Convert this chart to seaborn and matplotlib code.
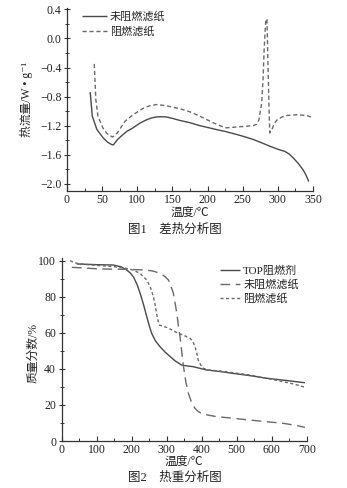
import numpy as np
import pandas as pd
import matplotlib
matplotlib.use("Agg")
import matplotlib.pyplot as plt
import seaborn as sns
from matplotlib.ticker import MultipleLocator

# DSC curves (temperature in °C, heat flow in W/g)
dsc_plain_T = [33, 36, 42.6, 51.6, 58, 63.4, 66, 68, 72, 77.6, 85, 94, 103, 113, 120, 127, 134, 141,
               150, 160, 175, 189, 200, 213, 225, 237, 250, 265, 278, 289, 300, 310, 316, 322, 329, 336, 340, 344]
dsc_plain_Q = [-0.74, -1.07, -1.255, -1.37, -1.43, -1.46, -1.465, -1.44, -1.39, -1.34, -1.28, -1.23, -1.17,
               -1.12, -1.095, -1.08, -1.077, -1.08, -1.10, -1.127, -1.16, -1.20, -1.225, -1.255, -1.28,
               -1.31, -1.345, -1.39, -1.44, -1.485, -1.525, -1.555, -1.59, -1.645, -1.72, -1.81, -1.88, -1.97]

dsc_fr_T = [38.8, 41, 44, 51, 56, 61, 65, 69, 73, 82.5, 94, 108.6, 118, 127, 141, 160, 175, 189, 208, 220,
            227, 246, 265, 270, 273, 277, 279, 280.5, 282, 283, 284.5, 286, 287.6, 288.5, 291.7, 295, 299,
            306, 313, 327, 341, 347]
dsc_fr_Q = [-0.35, -0.84, -1.07, -1.23, -1.30, -1.34, -1.355, -1.33, -1.28, -1.14, -1.05, -0.96, -0.925,
            -0.91, -0.925, -0.966, -1.01, -1.07, -1.16, -1.21, -1.23, -1.215, -1.20, -1.18, -1.12, -0.89,
            -0.55, -0.15, 0.12, 0.26, 0.27, -0.38, -1.02, -1.30, -1.25, -1.17, -1.12, -1.08, -1.06, -1.05,
            -1.06, -1.08]

# TGA curves (temperature in °C, mass fraction in %)
tga_top_T = [43, 100, 148, 170, 186, 196, 205, 215, 224, 234, 243, 250, 257, 268, 281, 295, 310, 325, 343,
             360, 376, 414, 450, 490, 540, 586, 640, 695]
tga_top_W = [98.2, 97.8, 97.6, 96.6, 94.8, 93.2, 91.0, 87.0, 82.0, 75.5, 69.0, 64.0, 59.7, 55.5, 52.3,
             49.4, 46.8, 44.3, 42.1, 41.6, 41.2, 39.4, 38.6, 37.5, 36.2, 34.8, 33.6, 32.3]

tga_plain_T = [29, 60, 110, 150, 186, 220, 243, 262, 281, 295, 305, 312, 319, 324, 329, 333, 338, 343,
               348, 355, 362, 371, 381, 390, 400, 420, 443, 490, 538, 585, 633, 665, 695]
tga_plain_W = [96.3, 96.0, 95.4, 95.3, 95.2, 95.0, 94.8, 94.2, 93.0, 91.2, 89.3, 86.0, 82.0, 76.5, 70.8,
               64.5, 57.9, 49.5, 41.2, 32.5, 26.4, 21.5, 18.1, 16.3, 15.3, 14.3, 13.5, 12.6, 11.6, 10.7,
               9.8, 8.8, 7.6]

tga_fr_T = [24, 35, 52, 100, 148, 180, 205, 225, 243, 253, 262, 267, 271, 275, 279, 290, 300, 315, 333,
            350, 367, 375, 381, 386, 390, 397, 405, 420, 452, 500, 538, 585, 633, 665, 695]
tga_fr_W = [100.0, 99.0, 98.2, 97.4, 96.7, 95.9, 94.8, 92.8, 89.3, 85.5, 80.0, 75.5, 70.8, 67.0, 64.3,
            63.6, 63.0, 61.6, 59.7, 58.5, 56.9, 55.0, 52.3, 48.5, 45.0, 42.2, 40.3, 39.4, 38.8, 37.6,
            36.6, 34.8, 32.9, 31.5, 29.8]

dsc_names = ["未阻燃滤纸", "阻燃滤纸"]
tga_names = ["TOP阻燃剂", "未阻燃滤纸", "阻燃滤纸"]

dsc = pd.concat([
    pd.DataFrame({"T": dsc_plain_T, "Q": dsc_plain_Q, "s": dsc_names[0]}),
    pd.DataFrame({"T": dsc_fr_T, "Q": dsc_fr_Q, "s": dsc_names[1]}),
])
tga = pd.concat([
    pd.DataFrame({"T": tga_top_T, "W": tga_top_W, "s": tga_names[0]}),
    pd.DataFrame({"T": tga_plain_T, "W": tga_plain_W, "s": tga_names[1]}),
    pd.DataFrame({"T": tga_fr_T, "W": tga_fr_W, "s": tga_names[2]}),
])

sns.set_theme(style="ticks")
plt.rcParams["font.family"] = ["Liberation Serif", "Noto Sans CJK SC", "DejaVu Sans"]
plt.rcParams["axes.linewidth"] = 0.9
plt.rcParams["axes.edgecolor"] = "#333333"

fig = plt.figure(figsize=(3.47, 4.88), dpi=100)
fig.patch.set_facecolor("white")

ax1 = fig.add_axes([67 / 347, 1 - 191 / 488, (313 - 67) / 347, (191 - 8) / 488])
ax2 = fig.add_axes([61.7 / 347, 1 - 441 / 488, (306.7 - 61.7) / 347, (441 - 258) / 488])

line_col = "#4a4a4a"
dash_col = "#6a6a6a"
text_col = "#222222"


def style_axes(ax):
    for side in ("top", "right"):
        ax.spines[side].set_visible(False)
    ax.set_facecolor("white")
    ax.tick_params(axis="x", which="both", direction="in", labelsize=8.5, pad=2, colors="#333333",
                   labelcolor=text_col)
    ax.tick_params(axis="x", which="major", length=3.5, width=0.8)
    ax.tick_params(axis="x", which="minor", length=2, width=0.7)
    ax.tick_params(axis="y", which="both", direction="inout", labelsize=8.5, pad=2, colors="#333333",
                   labelcolor=text_col)
    ax.tick_params(axis="y", which="major", length=4, width=0.8)
    ax.tick_params(axis="y", which="minor", length=2.5, width=0.7)


# ---- DSC ----
sns.lineplot(data=dsc, x="T", y="Q", hue="s", style="s", sort=False, estimator=None,
             palette=[line_col, dash_col], dashes=[(1, 0), (3, 2)], linewidth=1.0, ax=ax1)
ax1.set_xlim(0, 350)
ax1.set_ylim(-2.1, 0.42)
ax1.xaxis.set_major_locator(MultipleLocator(50))
ax1.xaxis.set_minor_locator(MultipleLocator(25))
ax1.yaxis.set_major_locator(MultipleLocator(0.4))
ax1.yaxis.set_minor_locator(MultipleLocator(0.2))
ax1.set_yticklabels([f"{v:.1f}".replace("-", "\u2212") for v in ax1.get_yticks()])
style_axes(ax1)
ax1.set_xlabel("温度/℃", fontsize=8.5, labelpad=1, color=text_col)
ax1.set_ylabel("热流量/W • g⁻¹", fontsize=8.5, color=text_col)
ax1.yaxis.set_label_coords(-0.138, 0.5)
leg1 = ax1.legend(loc="upper left", bbox_to_anchor=(0.035, 1.02), frameon=False, fontsize=8,
                  handlelength=2.2, handletextpad=0.3, labelspacing=0.4, borderaxespad=0.2)
for t in leg1.get_texts():
    t.set_color(text_col)

# ---- TGA ----
sns.lineplot(data=tga, x="T", y="W", hue="s", style="s", sort=False, estimator=None,
             palette=[line_col, dash_col, dash_col], dashes=[(1, 0), (7, 4), (2.2, 1.8)],
             linewidth=1.0, ax=ax2)
ax2.set_xlim(0, 700)
ax2.set_ylim(0, 101.5)
ax2.xaxis.set_major_locator(MultipleLocator(100))
ax2.xaxis.set_minor_locator(MultipleLocator(50))
ax2.yaxis.set_major_locator(MultipleLocator(20))
ax2.yaxis.set_minor_locator(MultipleLocator(10))
style_axes(ax2)
ax2.set_xlabel("温度/℃", fontsize=8.5, labelpad=0, color=text_col)
ax2.set_ylabel("质量分数/%", fontsize=8.5, color=text_col)
ax2.yaxis.set_label_coords(-0.093, 0.48)
leg2 = ax2.legend(loc="upper right", bbox_to_anchor=(1.0, 1.0), frameon=False, fontsize=8,
                  handlelength=1.8, handletextpad=0.3, labelspacing=0.3, borderaxespad=0.3)
for t in leg2.get_texts():
    t.set_color(text_col)

fig.text(175 / 347, 1 - 230 / 488, "图1　差热分析图", ha="center", va="center", fontsize=9,
         color=text_col)
fig.text(175 / 347, 1 - 478 / 488, "图2　热重分析图", ha="center", va="center", fontsize=9,
         color=text_col)

fig.savefig("out.png", dpi=100, facecolor="white")
